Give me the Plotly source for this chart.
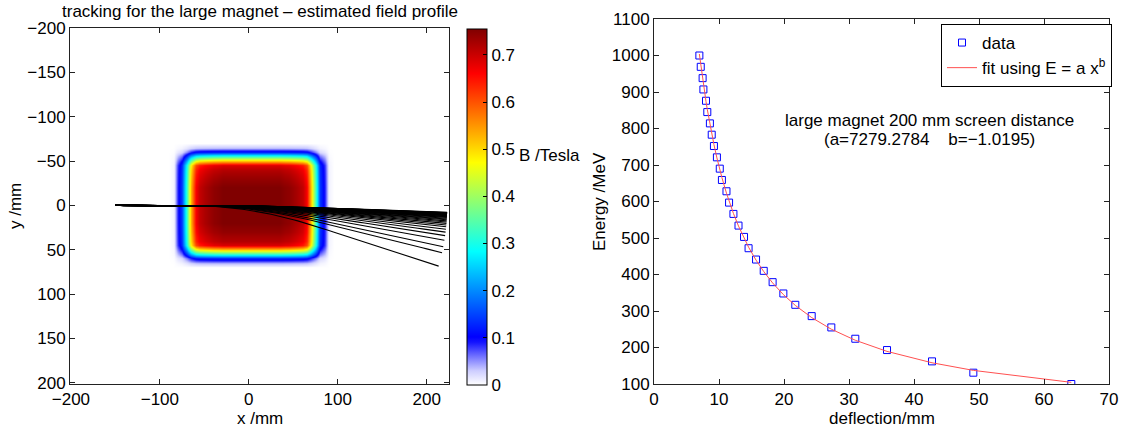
import numpy as np
import plotly.graph_objects as go

W, H = 1130, 429

# ---------------- data ----------------
# Right panel: energy vs deflection at 200 mm screen
ENERGY_MEV = [1000, 969, 938, 907, 876, 845, 814, 783, 752, 721, 690, 659, 628, 597, 566,
              534, 503, 472, 441, 410, 379, 348, 317, 286, 255, 224, 193, 162, 131, 100]
DEFLECTION_MM = [6.98, 7.19, 7.48, 7.60, 8.00, 8.20, 8.60, 8.88, 9.22, 9.68, 10.12, 10.45,
                 11.15, 11.55, 12.22, 13.00, 13.85, 14.55, 15.70, 16.88, 18.25, 19.90,
                 21.74, 24.26, 27.28, 30.97, 35.85, 42.77, 49.13, 64.20]
FIT_A = 7279.2784
FIT_B = -1.0195

# Left panel: estimated field profile (normalised 1-D profiles, peak field in Tesla)
B_PEAK = 0.755
FIELD_X = list(range(-100, 106, 5))
FX_PROFILE = [0, 0, 0, 0.01, 0.115, 0.19, 0.43, 0.69, 0.88, 0.935, 0.957, 0.97, 0.985, 0.99,
              1, 1, 1, 1, 1, 1, 1, 1, 1, 1, 1, 1, 1, 1,
              0.99, 0.985, 0.97, 0.957, 0.935, 0.88, 0.69, 0.43, 0.19, 0.115, 0.01, 0, 0, 0]
FIELD_Y = list(range(-80, 81, 5))
FY_PROFILE = [0, 0, 0, 0.05, 0.17, 0.42, 0.70, 0.91, 0.95, 0.965, 0.98, 0.99,
              1, 1, 1, 1, 1, 1, 1, 1, 1,
              0.99, 0.98, 0.965, 0.95, 0.91, 0.70, 0.42, 0.17, 0.05, 0, 0, 0]
TRACK_START_X = -150
SCREEN_X = 200
TRACK_LENGTH = 373

CB_TICKS = [0, 0.1, 0.2, 0.3, 0.4, 0.5, 0.6, 0.7]
CB_TICKTEXT = ["0", "0.1", "0.2", "0.3", "0.4", "0.5", "0.6", "0.7"]


def px(p):
    return p / W


def py(p):
    return 1 - p / H


FONT = "Liberation Sans, Arial, Helvetica, sans-serif"
FS = 17

fig = go.Figure()

# ---- field heatmap ----
z = B_PEAK * np.outer(np.array(FY_PROFILE), np.array(FX_PROFILE))
jet_white = [
    [0.0, "rgb(255,255,255)"],
    [0.04, "rgb(205,205,255)"],
    [0.08, "rgb(115,115,255)"],
    [0.12, "rgb(20,20,255)"],
    [0.135, "rgb(0,0,255)"],
    [0.375, "rgb(0,255,255)"],
    [0.625, "rgb(255,255,0)"],
    [0.875, "rgb(255,0,0)"],
    [1.0, "rgb(128,0,0)"],
]
fig.add_trace(go.Heatmap(
    x=FIELD_X, y=FIELD_Y, z=z, zmin=0, zmax=B_PEAK, zsmooth="best",
    colorscale=jet_white, xaxis="x", yaxis="y", showlegend=False, hoverinfo="skip",
    colorbar=dict(
        x=px(467), xanchor="left", y=py(207), yanchor="middle",
        len=356, lenmode="pixels", thickness=20, thicknessmode="pixels",
        xpad=0, ypad=0, outlinecolor="black", outlinewidth=1,
        ticks="inside", ticklen=4, tickcolor="black",
        tickvals=CB_TICKS, ticktext=CB_TICKTEXT,
        tickfont=dict(family=FONT, size=FS, color="black"),
    ),
))

# ---- particle tracks (small-angle: y ~ double integral of B, scaled to screen deflection) ----
tx = np.arange(TRACK_START_X, 226, 5.0)
b_line = np.interp(tx, FIELD_X, FX_PROFILE, left=0, right=0) * B_PEAK
dx = np.diff(tx)
slope_u = np.concatenate([[0], np.cumsum(0.5 * (b_line[1:] + b_line[:-1]) * dx)])
y_u = np.concatenate([[0], np.cumsum(0.5 * (slope_u[1:] + slope_u[:-1]) * dx)])
y_screen_u = np.interp(SCREEN_X, tx, y_u)

xs_all, ys_all = [], []
for d in DEFLECTION_MM:
    ty = y_u * d / y_screen_u
    seg = np.hypot(np.diff(tx), np.diff(ty))
    s = np.concatenate([[0], np.cumsum(seg)])
    idx = int(np.searchsorted(s, TRACK_LENGTH, side="right") - 1)
    xx = list(tx[: idx + 1])
    yy = list(ty[: idx + 1])
    if idx < len(tx) - 1:
        r = (TRACK_LENGTH - s[idx]) / seg[idx]
        xx.append(tx[idx] + r * (tx[idx + 1] - tx[idx]))
        yy.append(ty[idx] + r * (ty[idx + 1] - ty[idx]))
    xs_all += xx + [None]
    ys_all += yy + [None]

fig.add_trace(go.Scatter(
    x=xs_all, y=ys_all, mode="lines", line=dict(color="black", width=1.1),
    xaxis="x", yaxis="y", showlegend=False, hoverinfo="skip", connectgaps=False,
))

# ---- right panel ----
fit_x = np.array(DEFLECTION_MM)
fit_e = FIT_A * fit_x ** FIT_B
fig.add_trace(go.Scatter(
    x=DEFLECTION_MM, y=ENERGY_MEV, mode="markers", name="data",
    marker=dict(symbol="square-open", size=7, color="rgb(0,0,255)", line=dict(width=1)),
    xaxis="x2", yaxis="y2",
))
fig.add_trace(go.Scatter(
    x=fit_x, y=fit_e, mode="lines", name="fit using E = a x<sup>b</sup>",
    line=dict(color="rgb(255,80,80)", width=1),
    xaxis="x2", yaxis="y2",
))

axis_common = dict(
    showline=True, linecolor="#222", linewidth=1, mirror="ticks", automargin=False,
    ticks="inside", ticklen=5, tickcolor="#222", showgrid=False, zeroline=False,
    tickfont=dict(family=FONT, size=FS, color="black"),
)

fig.update_layout(
    template="none",
    width=W, height=H, margin=dict(l=0, r=0, t=0, b=0, autoexpand=False),
    paper_bgcolor="white", plot_bgcolor="white",
    font=dict(family=FONT, size=FS, color="black"),
    xaxis=dict(domain=[px(70), px(449)], range=[-201, 225], anchor="y",
               tickvals=[-200, -100, 0, 100, 200], **axis_common),
    yaxis=dict(domain=[py(384), py(28)], range=[201.5, -200], anchor="x",
               tickvals=[-200, -150, -100, -50, 0, 50, 100, 150, 200], **axis_common),
    xaxis2=dict(domain=[px(654), px(1109)], range=[0, 70], anchor="y2",
                tickvals=[0, 10, 20, 30, 40, 50, 60, 70], **axis_common),
    yaxis2=dict(domain=[py(384), py(19)], range=[100, 1100], anchor="x2",
                tickvals=list(range(100, 1101, 100)), **axis_common),
    legend=dict(x=px(941), y=py(24), xanchor="left", yanchor="top",
                bgcolor="white", bordercolor="black", borderwidth=1,
                font=dict(family=FONT, size=FS, color="black"), tracegroupgap=0),
)

ann = [
    dict(text="tracking for the large magnet – estimated field profile", x=px(259.5), y=py(11)),
    dict(text="B /Tesla", x=px(517), y=py(155), xanchor="left"),
    dict(text="x /mm", x=px(259.5), y=py(418)),
    dict(text="y /mm", x=px(16), y=py(206), textangle=-90),
    dict(text="Energy /MeV", x=px(599), y=py(202), textangle=-90),
    dict(text="deflection/mm", x=px(881.5), y=py(418)),
    dict(text="large magnet 200 mm screen distance", x=px(929.5), y=py(120)),
    dict(text="(a=7279.2784\u00a0\u00a0\u00a0\u00a0b=\u22121.0195)", x=px(929.5), y=py(139)),
]
for a in ann:
    base = dict(xref="paper", yref="paper", showarrow=False, xanchor="center", yanchor="middle",
                font=dict(family=FONT, size=FS, color="black"))
    base.update(a)
    fig.add_annotation(**base)

fig.write_html("out.html")
